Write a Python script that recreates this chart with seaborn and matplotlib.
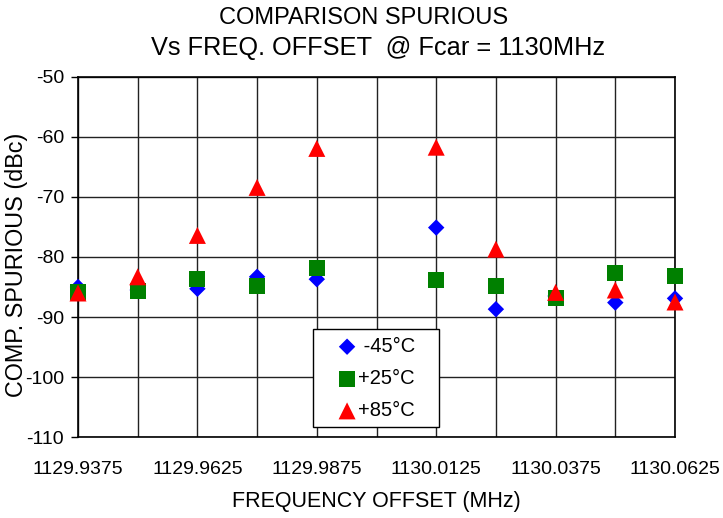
import numpy as np
import pandas as pd
import matplotlib
matplotlib.use("Agg")
import matplotlib.pyplot as plt
import seaborn as sns
from matplotlib.ticker import MultipleLocator, FixedLocator
from matplotlib.patches import Rectangle

freq = [1129.9375, 1129.95, 1129.9625, 1129.975, 1129.9875,
        1130.0125, 1130.025, 1130.0375, 1130.05, 1130.0625]
m45 = [-85.0, -85.5, -85.3, -83.3, -83.7, -75.1, -88.7, -86.5, -87.6, -86.9]
p25 = [-85.8, -85.6, -83.7, -84.9, -81.8, -83.8, -84.8, -86.9, -82.6, -83.1]
p85 = [-86.0, -83.3, -76.4, -68.4, -61.9, -61.7, -78.7, -85.9, -85.5, -87.5]
series = ["-45°C", "+25°C", "+85°C"]
legend_labels = [" -45°C", "+25°C", "+85°C"]
xticks = [1129.9375, 1129.9625, 1129.9875, 1130.0125, 1130.0375, 1130.0625]

df = pd.DataFrame({
    "freq": freq * 3,
    "val": m45 + p25 + p85,
    "temp": [series[0]] * len(freq) + [series[1]] * len(freq) + [series[2]] * len(freq),
})

sns.set_style("white")
plt.rcParams['font.family'] = ['Liberation Sans', 'DejaVu Sans']
plt.rcParams['axes.unicode_minus'] = False
for k in ['text.color', 'axes.labelcolor', 'xtick.color', 'ytick.color']:
    plt.rcParams[k] = 'black'

W, H = 723, 518
fig = plt.figure(figsize=(W / 100, H / 100), dpi=100)
L, R, T, B = 78, 675, 77, 437
ax = fig.add_axes([L / W, 1 - B / H, (R - L) / W, (B - T) / H])

colors = {"-45°C": "#0000ff", "+25°C": "#008000", "+85°C": "#ff0000"}
markers = {"-45°C": "D", "+25°C": "s", "+85°C": "^"}
sizes = {"-45°C": 70, "+25°C": 130, "+85°C": 150}
for t, lab in zip(series, legend_labels):
    sub = df[df["temp"] == t]
    sns.scatterplot(data=sub, x="freq", y="val", ax=ax, color=colors[t],
                    marker=markers[t], s=sizes[t], edgecolor="none",
                    label=lab, zorder=3, clip_on=False)

ax.set_xlim(1129.9375, 1130.0625)
ax.set_ylim(-110, -50)
ax.xaxis.set_major_locator(FixedLocator(xticks))
ax.xaxis.set_minor_locator(MultipleLocator(0.0125))
ax.yaxis.set_major_locator(MultipleLocator(10))
ax.set_xticklabels([f"{v:.4f}" for v in xticks])
ax.grid(True, which="both", color="#222222", linewidth=1.0)
ax.tick_params(axis="x", which="major", direction="inout", length=8, width=1,
               labelsize=14, pad=13, color="black")
ax.tick_params(axis="x", which="minor", direction="in", length=4, width=1, color="black")
ax.tick_params(axis="y", which="major", direction="out", length=5, width=1,
               labelsize=14, pad=5, left=True, color="black")
for sp in ax.spines.values():
    sp.set_color("black")
    sp.set_linewidth(1.2)

ax.set_xlabel("FREQUENCY OFFSET (MHz)", fontsize=15.5, labelpad=10)
ax.set_ylabel("")
fig.text(17 / W, 1 - 265 / H, "COMP. SPURIOUS (dBc)", rotation=90,
         ha="center", va="center", fontsize=16.8)
fig.text(364 / W, 1 - 18 / H, "COMPARISON SPURIOUS", ha="center", va="center", fontsize=17)
fig.text(378 / W, 1 - 48 / H, "Vs FREQ. OFFSET  @ Fcar = 1130MHz", ha="center",
         va="center", fontsize=18.3)

# legend frame box
lx0, lx1, ly0, ly1 = 313, 439, 329, 427
ax.add_patch(Rectangle(((lx0 - L) / (R - L), (B - ly1) / (B - T)),
                       (lx1 - lx0) / (R - L), (ly1 - ly0) / (B - T),
                       transform=ax.transAxes, facecolor="white",
                       edgecolor="black", linewidth=1.0, zorder=4, clip_on=False))
leg = ax.legend(loc="upper left", bbox_to_anchor=((337 - L) / (R - L), (B - 337) / (B - T)),
                borderaxespad=0, borderpad=0, fontsize=14.5, frameon=False,
                labelspacing=0.65, handlelength=1.0, handletextpad=0.05)
leg.set_zorder(5)

fig.savefig("out.png", dpi=100)
